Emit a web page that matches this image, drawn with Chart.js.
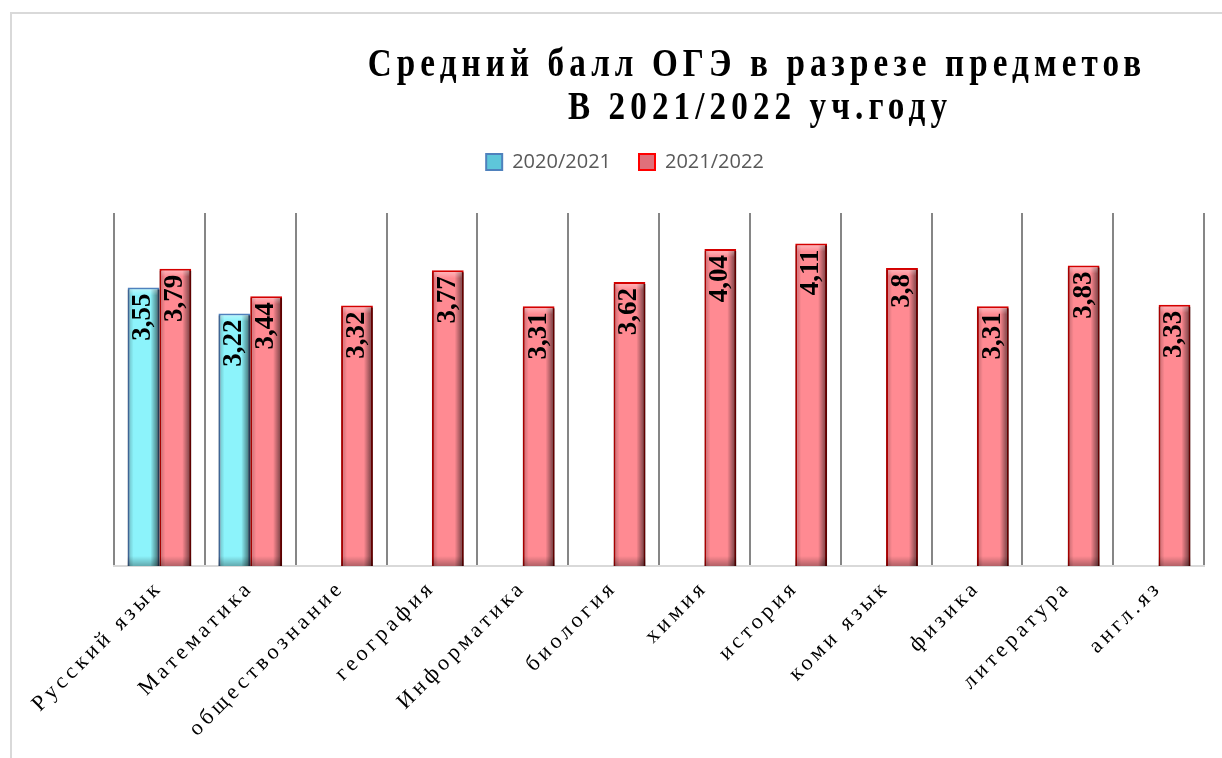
<!DOCTYPE html>
<html>
<head>
<meta charset="utf-8">
<script src="https://cdn.jsdelivr.net/npm/chart.js@4/dist/chart.umd.min.js"></script>
<style>
  html, body { margin: 0; padding: 0; background: #fff; }
  #frame { position: absolute; left: 10px; top: 12px; width: 1300px; height: 800px;
           border-left: 2px solid #d9d9d9; border-top: 2px solid #d9d9d9; }
  #wrap { position: absolute; left: 0; top: 0; width: 1222px; height: 758px; }
</style>
</head>
<body>
<div id="frame"></div>
<div id="wrap"><canvas id="chart"></canvas></div>
<script>
// chart data
const categories = ['Русский язык', 'Математика', 'обществознание', 'география', 'Информатика',
    'биология', 'химия', 'история', 'коми язык', 'физика', 'литература', 'англ.яз'];
const seriesNames = ['2020/2021', '2021/2022'];
const scores2021 = [3.55, 3.22, null, null, null, null, null, null, null, null, null, null];
const scores2022 = [3.79, 3.44, 3.32, 3.77, 3.31, 3.62, 4.04, 4.11, 3.8, 3.31, 3.83, 3.33];
const titleLines = ['Средний балл ОГЭ в разрезе предметов', 'В 2021/2022 уч.году'];

// Title drawn condensed with letter spacing
const titlePlugin = {
    id: 'spacedTitle',
    afterDraw(chart) {
        const ctx = chart.ctx;
        const rows = [[757, 76], [760, 119]];
        titleLines.forEach((line, i) => {
            ctx.save();
            ctx.translate(rows[i][0], rows[i][1]);
            ctx.scale(0.85, 1);
            ctx.font = 'bold 39px "Liberation Serif"';
            ctx.letterSpacing = '6px';
            ctx.fillStyle = '#000';
            ctx.textAlign = 'center';
            ctx.textBaseline = 'alphabetic';
            ctx.fillText(line, 0, 0);
            ctx.restore();
        });
    }
};

// extra space under legend, spaced x labels
const layoutTweaks = {
    id: 'layoutTweaks',
    afterInit(chart) {
        const legend = chart.legend;
        const fit = legend.fit;
        legend.fit = function () {
            fit.call(this);
            this.height += 31;
        };
    },
    afterUpdate(chart) {
        const x = chart.scales.x;
        if (x && !x._spaced) {
            const draw = x.drawLabels;
            x.drawLabels = function (area) {
                this.ctx.save();
                this.ctx.letterSpacing = '4px';
                draw.call(this, area);
                this.ctx.restore();
            };
            x._spaced = true;
        }
    }
};

// bevel shading and rotated value labels
const barLabels = {
    id: 'barLabels',
    afterDatasetsDraw(chart) {
        const ctx = chart.ctx;
        chart.data.datasets.forEach((ds, di) => {
            const meta = chart.getDatasetMeta(di);
            meta.data.forEach((el, i) => {
                const v = ds.data[i];
                if (v === null || v === undefined) return;
                const p = el.getProps(['x', 'y', 'base', 'width'], true);
                const l = p.x - p.width / 2, r = p.x + p.width / 2;
                const t = p.y, b = p.base;
                ctx.save();
                let g = ctx.createLinearGradient(r - 9, 0, r, 0);
                g.addColorStop(0, 'rgba(0,0,0,0)');
                g.addColorStop(1, 'rgba(0,0,0,0.6)');
                ctx.fillStyle = g;
                ctx.fillRect(r - 9, t + 2, 9, b - t - 2);
                g = ctx.createLinearGradient(l, 0, l + 6, 0);
                g.addColorStop(0, 'rgba(0,0,0,0.25)');
                g.addColorStop(1, 'rgba(0,0,0,0)');
                ctx.fillStyle = g;
                ctx.fillRect(l, t + 2, 6, b - t - 2);
                g = ctx.createLinearGradient(0, t, 0, t + 8);
                g.addColorStop(0, 'rgba(255,255,255,0.45)');
                g.addColorStop(1, 'rgba(255,255,255,0)');
                ctx.fillStyle = g;
                ctx.fillRect(l + 2, t + 2, p.width - 4, 8);
                g = ctx.createLinearGradient(0, b - 10, 0, b);
                g.addColorStop(0, 'rgba(0,0,0,0)');
                g.addColorStop(1, 'rgba(0,0,0,0.3)');
                ctx.fillStyle = g;
                ctx.fillRect(l, b - 10, p.width, 10);
                ctx.restore();

                ctx.save();
                ctx.translate(p.x, t + 6);
                ctx.rotate(-Math.PI / 2);
                ctx.font = 'bold 27px "Liberation Serif"';
                ctx.fillStyle = '#000';
                ctx.textAlign = 'right';
                ctx.textBaseline = 'middle';
                ctx.fillText(String(v).replace('.', ','), 0, 0);
                ctx.restore();
            });
        });
    }
};

const legendFill = ['#5ec6da', '#e0707a'];
const legendStroke = ['#4f81bd', '#ff0000'];

new Chart(document.getElementById('chart'), {
    type: 'bar',
    data: {
        labels: categories,
        datasets: [
            {
                label: seriesNames[0],
                data: scores2021,
                backgroundColor: '#8cf3fb',
                borderColor: '#4f81bd',
                borderWidth: 2
            },
            {
                label: seriesNames[1],
                data: scores2022,
                backgroundColor: '#ff8a92',
                borderColor: '#d40000',
                borderWidth: 2
            }
        ]
    },
    options: {
        responsive: true,
        maintainAspectRatio: false,
        animation: false,
        layout: { padding: { left: 46, right: 18, top: 124, bottom: 0 } },
        datasets: { bar: { categoryPercentage: 0.7, barPercentage: 1.0 } },
        scales: {
            x: {
                grid: { display: true, offset: true, color: '#868686', lineWidth: 2, drawTicks: false },
                border: { display: true, color: '#d9d9d9', width: 2 },
                ticks: {
                    autoSkip: false,
                    minRotation: 45,
                    maxRotation: 45,
                    padding: 9,
                    color: '#000',
                    font: { family: '"Liberation Serif"', size: 22 }
                },
                afterFit(s) { s.height = 192; }
            },
            y: {
                min: 0,
                max: 4.5,
                ticks: { display: false },
                grid: { display: false },
                border: { display: false },
                afterFit(s) { s.width = 68; }
            }
        },
        plugins: {
            title: { display: false },
            tooltip: { enabled: false },
            legend: {
                position: 'top',
                labels: {
                    boxWidth: 16,
                    boxHeight: 16,
                    padding: 28,
                    color: '#595959',
                    font: { family: '"Open Sans"', size: 20 },
                    generateLabels(chart) {
                        return Chart.defaults.plugins.legend.labels.generateLabels(chart).map((item, i) => ({
                            ...item,
                            fillStyle: legendFill[i],
                            strokeStyle: legendStroke[i],
                            lineWidth: 2
                        }));
                    }
                }
            }
        }
    },
    plugins: [layoutTweaks, barLabels, titlePlugin]
});
</script>
</body>
</html>
